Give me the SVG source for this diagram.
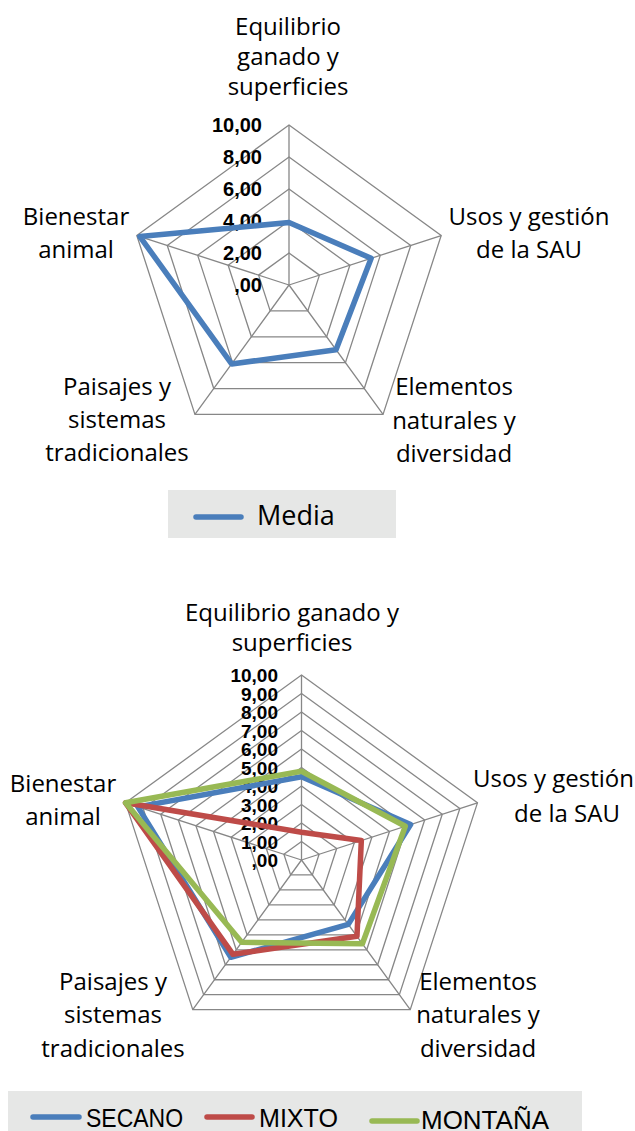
<svg xmlns="http://www.w3.org/2000/svg" width="635" height="1131" viewBox="0 0 635 1131">
<style>
.grid{fill:none;stroke:#878787;stroke-width:1.3}
.lbl{font-family:"Open Sans","Noto Sans",sans-serif;font-size:24px;fill:#000;text-anchor:middle}
.num{font-family:"Liberation Sans",Arial,sans-serif;font-weight:bold;fill:#000;text-anchor:end}
.s{fill:none;stroke-width:5.5;stroke-linejoin:round;stroke-linecap:round}
.blue{stroke:#4A7EBB}
.red{stroke:#BE4B48}
.green{stroke:#98B954}
.leg{font-family:"Liberation Sans",Arial,sans-serif;font-size:26px;fill:#000}
</style>
<rect width="635" height="1131" fill="#fff"/>

<!-- Top chart -->
<g id="chart1">
  <g id="grid1" class="grid">
    <polygon points="289,253 319.43,275.11 307.81,310.89 270.19,310.89 258.57,275.11"/>
    <polygon points="289,221 349.87,265.22 326.62,336.78 251.38,336.78 228.13,265.22"/>
    <polygon points="289,189 380.31,255.34 345.43,362.66 232.57,362.66 197.69,255.34"/>
    <polygon points="289,157 410.74,245.45 364.24,388.55 213.76,388.55 167.26,245.45"/>
    <polygon points="289,125 441.18,235.56 383.05,414.44 194.95,414.44 136.82,235.56"/>
    <path d="M289,285 L289,125 M289,285 L441.18,235.56 M289,285 L383.05,414.44 M289,285 L194.95,414.44 M289,285 L136.82,235.56"/>
  </g>
  <g id="scale1" class="num" font-size="20">
    <text x="262" y="132">10,00</text>
    <text x="262" y="164">8,00</text>
    <text x="262" y="196">6,00</text>
    <text x="262" y="228">4,00</text>
    <text x="262" y="260">2,00</text>
    <text x="262" y="292">,00</text>
  </g>
  <g id="series-media">
    <polygon class="s blue" stroke-width="5" points="289,222.6 371.17,258.3 336.02,349.72 231.63,363.96 139.87,236.55"/>
  </g>
  <g id="axis1-eq" class="lbl">
    <text x="288" y="35">Equilibrio</text>
    <text x="288" y="65">ganado y</text>
    <text x="288" y="95">superficies</text>
  </g>
  <g id="axis1-usos" class="lbl">
    <text x="529" y="225">Usos y gestión</text>
    <text x="529" y="258">de la SAU</text>
  </g>
  <g id="axis1-elem" class="lbl">
    <text x="454" y="395">Elementos</text>
    <text x="454" y="429">naturales y</text>
    <text x="454" y="462">diversidad</text>
  </g>
  <g id="axis1-pais" class="lbl">
    <text x="117" y="395">Paisajes y</text>
    <text x="117" y="428">sistemas</text>
    <text x="117" y="461">tradicionales</text>
  </g>
  <g id="axis1-bien" class="lbl">
    <text x="76" y="225">Bienestar</text>
    <text x="76" y="258">animal</text>
  </g>
  <g id="legend1">
    <rect x="168" y="490" width="228" height="48" fill="#E6E7E6"/>
    <line x1="196" y1="517" x2="241" y2="517" class="s blue" stroke-width="5"/>
    <text x="257" y="525" font-family="'Open Sans','Noto Sans',sans-serif" font-size="27">Media</text>
  </g>
</g>

<!-- Bottom chart -->
<g id="chart2">
  <g id="grid2" class="grid">
    <polygon points="301.5,841.5 319.1,854.28 312.37,874.97 290.63,874.97 283.9,854.28"/>
    <polygon points="301.5,823 336.69,848.57 323.25,889.93 279.75,889.93 266.31,848.57"/>
    <polygon points="301.5,804.5 354.29,842.85 334.12,904.9 268.88,904.9 248.71,842.85"/>
    <polygon points="301.5,786 371.88,837.13 345,919.87 258,919.87 231.12,837.13"/>
    <polygon points="301.5,767.5 389.48,831.42 355.87,934.83 247.13,934.83 213.52,831.42"/>
    <polygon points="301.5,749 407.07,825.7 366.75,949.8 236.25,949.8 195.93,825.7"/>
    <polygon points="301.5,730.5 424.67,819.98 377.62,964.77 225.38,964.77 178.33,819.98"/>
    <polygon points="301.5,712 442.26,814.27 388.49,979.73 214.51,979.73 160.74,814.27"/>
    <polygon points="301.5,693.5 459.86,808.55 399.37,994.7 203.63,994.7 143.14,808.55"/>
    <polygon points="301.5,675 477.45,802.83 410.24,1009.67 192.76,1009.67 125.55,802.83"/>
    <path d="M301.5,860 L301.5,675 M301.5,860 L477.45,802.83 M301.5,860 L410.24,1009.67 M301.5,860 L192.76,1009.67 M301.5,860 L125.55,802.83"/>
  </g>
  <g id="scale2" class="num" font-size="19">
    <text x="278" y="682">10,00</text>
    <text x="278" y="700.5">9,00</text>
    <text x="278" y="719">8,00</text>
    <text x="278" y="737.5">7,00</text>
    <text x="278" y="756">6,00</text>
    <text x="278" y="774.5">5,00</text>
    <text x="278" y="793">4,00</text>
    <text x="278" y="811.5">3,00</text>
    <text x="278" y="830">2,00</text>
    <text x="278" y="848.5">1,00</text>
    <text x="278" y="867">,00</text>
  </g>
  <g id="series-secano">
    <polygon class="s blue" points="301.5,776.75 410.59,824.56 348.26,924.36 230.82,957.28 137.86,806.84"/>
  </g>
  <g id="series-mixto">
    <polygon class="s red" points="301.5,832.25 361.32,840.56 356.96,936.33 232.99,954.29 125.55,802.83"/>
  </g>
  <g id="series-montana">
    <polygon class="s green" stroke-width="6" points="301.5,771.2 405.31,826.27 362.4,943.81 241.69,942.32 125.55,802.83"/>
  </g>
  <g id="axis2-eq" class="lbl">
    <text x="292" y="621">Equilibrio ganado y</text>
    <text x="292" y="651">superficies</text>
  </g>
  <g id="axis2-usos" class="lbl">
    <text x="473" y="787" text-anchor="start">Usos y gestión</text>
    <text x="567" y="822">de la SAU</text>
  </g>
  <g id="axis2-elem" class="lbl">
    <text x="478" y="990">Elementos</text>
    <text x="478" y="1023">naturales y</text>
    <text x="478" y="1057">diversidad</text>
  </g>
  <g id="axis2-pais" class="lbl">
    <text x="113" y="990">Paisajes y</text>
    <text x="113" y="1023">sistemas</text>
    <text x="113" y="1057">tradicionales</text>
  </g>
  <g id="axis2-bien" class="lbl">
    <text x="63" y="792">Bienestar</text>
    <text x="63" y="825">animal</text>
  </g>
  <g id="legend2">
    <rect x="8" y="1091" width="574" height="40" fill="#E6E7E6"/>
    <line x1="33" y1="1117" x2="79" y2="1117" class="s blue" stroke-width="5"/>
    <text x="86" y="1127" class="leg" textLength="97" lengthAdjust="spacingAndGlyphs">SECANO</text>
    <line x1="207" y1="1117" x2="252" y2="1117" class="s red" stroke-width="5"/>
    <text x="259" y="1127" class="leg" textLength="79" lengthAdjust="spacingAndGlyphs">MIXTO</text>
    <line x1="372" y1="1121" x2="417" y2="1121" class="s green" stroke-width="5"/>
    <text x="421" y="1129" class="leg" textLength="128" lengthAdjust="spacingAndGlyphs">MONTAÑA</text>
  </g>
</g>
</svg>
